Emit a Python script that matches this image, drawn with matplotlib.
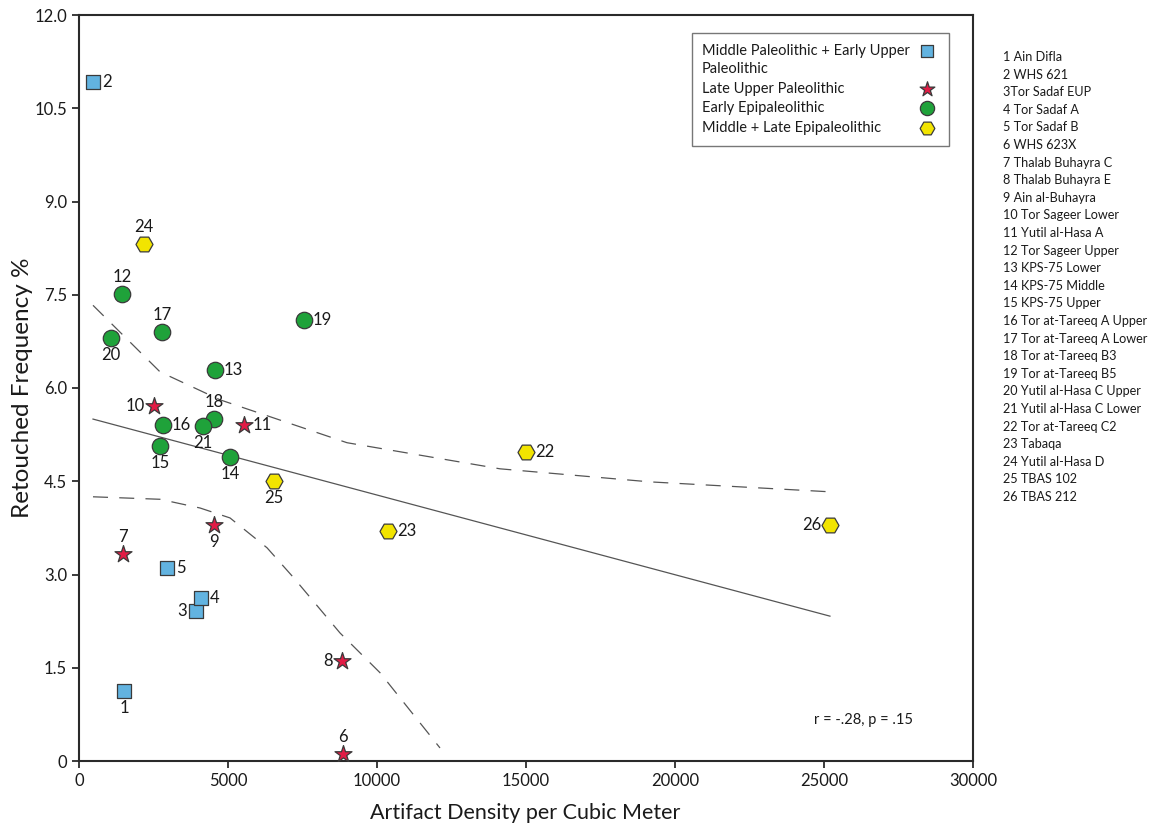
import matplotlib.pyplot as plt
from matplotlib.patches import Rectangle

plt.rcParams['font.family'] = ['Lato', 'DejaVu Sans']

# Site data: density per cubic meter, retouched frequency %
site_ids = list(range(1, 27))
site_names = ["Ain Difla", "WHS 621", "Tor Sadaf EUP", "Tor Sadaf A", "Tor Sadaf B",
              "WHS 623X", "Thalab Buhayra C", "Thalab Buhayra E", "Ain al-Buhayra",
              "Tor Sageer Lower", "Yutil al-Hasa A", "Tor Sageer Upper", "KPS-75 Lower",
              "KPS-75 Middle", "KPS-75 Upper", "Tor at-Tareeq A Upper",
              "Tor at-Tareeq A Lower", "Tor at-Tareeq B3", "Tor at-Tareeq B5",
              "Yutil al-Hasa C Upper", "Yutil al-Hasa C Lower", "Tor at-Tareeq C2",
              "Tabaqa", "Yutil al-Hasa D", "TBAS 102", "TBAS 212"]
density = [1510, 470, 3930, 4090, 2950, 8860, 1480, 8830, 4530, 2520, 5540, 1440, 4560,
           5070, 2720, 2820, 2790, 4530, 7550, 1070, 4160, 15000, 10370, 2180, 6540, 25200]
retouch = [1.13, 10.92, 2.41, 2.62, 3.10, 0.11, 3.33, 1.61, 3.80, 5.71, 5.40, 7.51, 6.29,
           4.89, 5.07, 5.40, 6.90, 5.50, 7.09, 6.80, 5.39, 4.97, 3.70, 8.32, 4.50, 3.80]
period = ["MP", "MP", "MP", "MP", "MP", "LUP", "LUP", "LUP", "LUP", "LUP", "LUP",
          "EE", "EE", "EE", "EE", "EE", "EE", "EE", "EE", "EE", "EE",
          "MLE", "MLE", "MLE", "MLE", "MLE"]
label_side = ["below", "right", "left", "right", "right", "above", "above", "left", "below",
              "left", "right", "above", "right", "below", "below", "right", "above", "above",
              "right", "below", "below", "right", "right", "above", "below", "left"]

# Fit line and band
fit_x = [470, 25200]
fit_y = [5.50, 2.33]
upper_x = [470, 2718, 4732, 8993, 14128, 19161, 25200]
upper_y = [7.33, 6.26, 5.81, 5.12, 4.70, 4.49, 4.33]
lower_x = [470, 2718, 4060, 5067, 6309, 7181, 8758, 10101, 12114]
lower_y = [4.25, 4.21, 4.07, 3.91, 3.43, 2.96, 2.06, 1.42, 0.21]

periods = ["MP", "LUP", "EE", "MLE"]
legend_rows = ["Middle Paleolithic + Early Upper", "Paleolithic", "Late Upper Paleolithic",
               "Early Epipaleolithic", "Middle + Late Epipaleolithic"]
legend_marks = ["MP", None, "LUP", "EE", "MLE"]
styles = {
    "MP": dict(marker="s", s=105, c="#62b3e0"),
    "LUP": dict(marker="*", s=165, c="#e21b45"),
    "EE": dict(marker="o", s=140, c="#1fa23a"),
    "MLE": dict(marker="H", s=150, c="#f2e400"),
}

fig = plt.figure(figsize=(11.49, 8.31), dpi=100)
ax = fig.add_axes([79 / 1149, 70 / 831, 894 / 1149, 746 / 831])

ax.plot(fit_x, fit_y, color="#555555", lw=0.9)
ax.plot(upper_x, upper_y, color="#555555", lw=0.9, dashes=(12, 9))
ax.plot(lower_x, lower_y, color="#555555", lw=0.9, dashes=(12, 9))

for p in periods:
    xs = [d for d, q in zip(density, period) if q == p]
    ys = [r for r, q in zip(retouch, period) if q == p]
    ax.scatter(xs, ys, edgecolors="#3a3a3a", linewidths=0.9, zorder=3, **styles[p])

offsets = {"right": (9, 0, "left", "center"), "left": (-9, 0, "right", "center"),
           "above": (0, 9, "center", "bottom"), "below": (0, -9, "center", "top")}
for i, x, y, side in zip(site_ids, density, retouch, label_side):
    dx, dy, ha, va = offsets[side]
    ax.annotate(str(i), (x, y), xytext=(dx, dy), textcoords="offset pixels",
                ha=ha, va=va, fontsize=12, color="#1a1a1a")

ax.set_xlim(0, 30000)
ax.set_ylim(0, 12)
ax.set_xticks(range(0, 30001, 5000))
yt = [0, 1.5, 3, 4.5, 6, 7.5, 9, 10.5, 12]
ax.set_yticks(yt)
ax.set_yticklabels(["0"] + ["%.1f" % v for v in yt[1:]])
ax.tick_params(direction="out", length=5, width=1.2, labelsize=12, colors="#1a1a1a")
for sp in ax.spines.values():
    sp.set_linewidth(1.5)
    sp.set_color("#2a2a2a")

ax.set_xlabel("Artifact Density per Cubic Meter", fontsize=15.5, va="center", color="#1a1a1a")
ax.set_ylabel("Retouched Frequency %", fontsize=17.5, va="center", color="#1a1a1a")
ax.xaxis.set_label_coords(0.499, -0.070)
ax.yaxis.set_label_coords(-0.063, 0.5)

ax.text(0.822, 0.055, "r = -.28, p = .15", transform=ax.transAxes, fontsize=10.5,
        ha="left", va="center", color="#1a1a1a")

# legend drawn by hand: text left, marker column right
ax.add_patch(Rectangle((0.686, 0.824), 0.2875, 0.152, transform=ax.transAxes,
                       fill=False, edgecolor="#777777", lw=1.0, zorder=4))
row_y = [0.952, 0.927, 0.901, 0.875, 0.849]
for lab, mk, yy in zip(legend_rows, legend_marks, row_y):
    ax.text(0.697, yy, lab, transform=ax.transAxes, fontsize=10.5, ha="left", va="center",
            color="#1a1a1a")
    if mk is not None:
        ax.scatter([0.9485], [yy], transform=ax.transAxes, edgecolors="#3a3a3a",
                   linewidths=0.9, zorder=5, clip_on=False,
                   **{k: (v * 0.75 if k == "s" else v) for k, v in styles[mk].items()})

for k, (i, name) in enumerate(zip(site_ids, site_names)):
    sep = "" if i == 3 else " "
    fig.text(1003 / 1149, 1 - (57 + k * 17.6) / 831, f"{i}{sep}{name}", fontsize=9.1,
             ha="left", va="center", color="#1a1a1a")

fig.savefig("out.png", dpi=100)
